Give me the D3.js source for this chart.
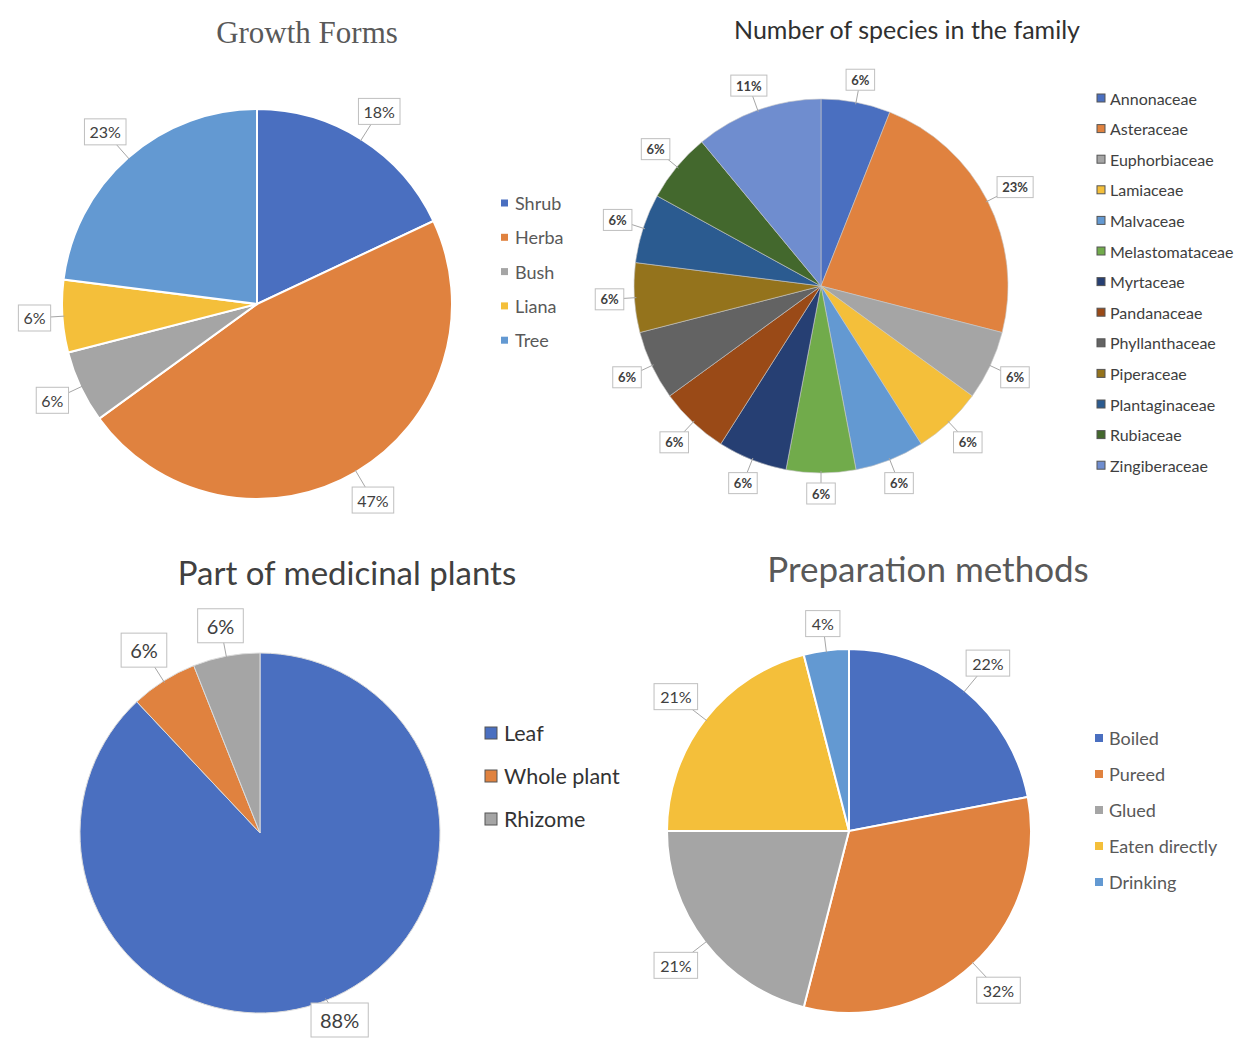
<!DOCTYPE html>
<html>
<head>
<meta charset="utf-8">
<script src="https://cdn.jsdelivr.net/npm/d3@7"></script>
<style>
  body { margin: 0; background: #fff; }
  svg { display: block; }
</style>
</head>
<body>
<script>
// --- data (percent) ---
let growthNames = ["Shrub", "Herba", "Bush", "Liana", "Tree"];
let growthValues = [18, 47, 6, 6, 23];

let familyNames = ["Annonaceae", "Asteraceae", "Euphorbiaceae", "Lamiaceae",
  "Malvaceae", "Melastomataceae", "Myrtaceae", "Pandanaceae", "Phyllanthaceae",
  "Piperaceae", "Plantaginaceae", "Rubiaceae", "Zingiberaceae"];
let familyValues = [6, 23, 6, 6, 6, 6, 6, 6, 6, 6, 6, 6, 11];

let partNames = ["Leaf", "Whole plant", "Rhizome"];
let partValues = [88, 6, 6];

let prepNames = ["Boiled", "Pureed", "Glued", "Eaten directly", "Drinking"];
let prepValues = [22, 32, 21, 21, 4];

// office-like palette, a bit muted like the scan
let officeColors = ["#4a6fc0", "#e0823f", "#a5a5a5", "#f4bf3a", "#6399d2",
  "#71ab4b", "#263f73", "#9a4a17", "#636363", "#94731c", "#2b5b90",
  "#43682d", "#6f8dcf"];

const W = 1240, H = 1039;

let svg = d3.select("body").append("svg")
  .attr("width", W)
  .attr("height", H);

let sans = "Lato, 'Open Sans', sans-serif";

function drawPie(o) {
  let items = o.names.map((n, i) => ({name: n, value: o.values[i]}));
  let total = d3.sum(o.values);
  let pct = d3.format(".0%");

  let pie = d3.pie().sort(null).value(d => d.value);
  let arc = d3.arc().innerRadius(0).outerRadius(o.r);
  let color = d3.scaleOrdinal().domain(o.names).range(officeColors);
  let arcs = pie(items);

  // title
  svg.append("text")
    .attr("x", o.titleX)
    .attr("y", o.titleY)
    .attr("text-anchor", "middle")
    .style("font-family", o.titleFont || sans)
    .style("font-size", o.titleSize + "px")
    .style("fill", o.titleColor)
    .text(o.title);

  let g = svg.append("g")
    .attr("transform", `translate(${o.cx},${o.cy})`);

  g.selectAll("path.slice")
    .data(arcs)
    .join("path")
    .attr("class", "slice")
    .attr("d", arc)
    .style("fill", d => color(d.data.name))
    .style("stroke", o.sliceStroke)
    .style("stroke-width", o.sliceStrokeWidth);

  // callout labels
  g.selectAll("g.lab")
    .data(arcs)
    .join("g")
    .attr("class", "lab")
    .each(function(d) {
      let lab = d3.select(this);
      let ang = (d.startAngle + d.endAngle) / 2;
      let sx = Math.sin(ang), sy = -Math.cos(ang);
      let line = lab.append("line");
      let rect = lab.append("rect");
      let t = lab.append("text")
        .attr("text-anchor", "middle")
        .attr("dominant-baseline", "central")
        .style("font-family", sans)
        .style("font-size", o.labelSize + "px")
        .style("font-weight", o.labelWeight || "normal")
        .style("fill", "#404040")
        .text(pct(d.data.value / total));
      let bb = t.node().getBBox();
      let w = bb.width + 2 * o.padX, h = o.labelSize + 2 * o.padY;
      let off = w / 2 * Math.abs(sx) + h / 2 * Math.abs(sy);
      let dist = o.r + o.gap + off;
      let x = sx * dist, y = sy * dist;
      // keep the box inside the page
      y = Math.min(y, H - 2 - h / 2 - o.cy);
      t.attr("x", x).attr("y", y);
      rect.attr("x", x - w / 2).attr("y", y - h / 2)
        .attr("width", w).attr("height", h)
        .style("fill", "#fff")
        .style("stroke", "#bfbfbf")
        .style("stroke-width", 1);
      line.attr("x1", sx * (o.r - 2)).attr("y1", sy * (o.r - 2))
        .attr("x2", x).attr("y2", y)
        .style("stroke", "#a6a6a6")
        .style("stroke-width", 1);
    });

  // legend
  let leg = svg.append("g")
    .attr("transform", `translate(${o.legX},${o.legY})`);
  let rows = leg.selectAll("g.row")
    .data(o.names)
    .join("g")
    .attr("class", "row")
    .attr("transform", (d, i) => `translate(0,${i * o.legStep})`);
  rows.append("rect")
    .attr("x", 0)
    .attr("y", -o.legSq / 2)
    .attr("width", o.legSq)
    .attr("height", o.legSq)
    .style("fill", d => color(d))
    .style("stroke", o.legSqStroke || "none")
    .style("stroke-width", 1);
  rows.append("text")
    .attr("x", o.legSq + o.legGap)
    .attr("y", 0)
    .attr("dominant-baseline", "central")
    .style("font-family", sans)
    .style("font-size", o.legSize + "px")
    .style("font-weight", o.legWeight || "normal")
    .style("fill", o.legColor)
    .text(d => d);
}

drawPie({
  names: growthNames, values: growthValues,
  title: "Growth Forms", titleX: 307, titleY: 43, titleSize: 31,
  titleFont: "'Liberation Serif', 'DejaVu Serif', serif", titleColor: "#595959",
  cx: 257, cy: 304, r: 195,
  sliceStroke: "#fff", sliceStrokeWidth: 2,
  labelSize: 16, padX: 5, padY: 5, gap: 11,
  legX: 501, legY: 203, legStep: 34.3, legSq: 7, legGap: 7,
  legSize: 18, legColor: "#595959"
});

drawPie({
  names: familyNames, values: familyValues,
  title: "Number of species in the family", titleX: 907, titleY: 39, titleSize: 25,
  titleColor: "#303030",
  cx: 821, cy: 286, r: 187,
  sliceStroke: "#c8c8c8", sliceStrokeWidth: 0.6,
  labelSize: 13, labelWeight: "bold", padX: 5, padY: 4, gap: 10,
  legX: 1097, legY: 98, legStep: 30.6, legSq: 8, legGap: 5,
  legSize: 16, legColor: "#404040", legSqStroke: "#555"
});

drawPie({
  names: partNames, values: partValues,
  title: "Part of medicinal plants", titleX: 347, titleY: 585, titleSize: 33,
  titleColor: "#404040",
  cx: 260, cy: 833, r: 180,
  sliceStroke: "#dcdcdc", sliceStrokeWidth: 1,
  labelSize: 20, padX: 9, padY: 7, gap: 10,
  legX: 485, legY: 733, legStep: 43, legSq: 12, legGap: 7,
  legSize: 21.5, legColor: "#333", legSqStroke: "#555"
});

drawPie({
  names: prepNames, values: prepValues,
  title: "Preparation methods", titleX: 928, titleY: 582, titleSize: 35,
  titleColor: "#595959",
  cx: 849, cy: 831, r: 182,
  sliceStroke: "#fff", sliceStrokeWidth: 2,
  labelSize: 16, padX: 6, padY: 5, gap: 12,
  legX: 1095, legY: 738, legStep: 36, legSq: 8, legGap: 6,
  legSize: 18, legColor: "#595959"
});
</script>
</body>
</html>
